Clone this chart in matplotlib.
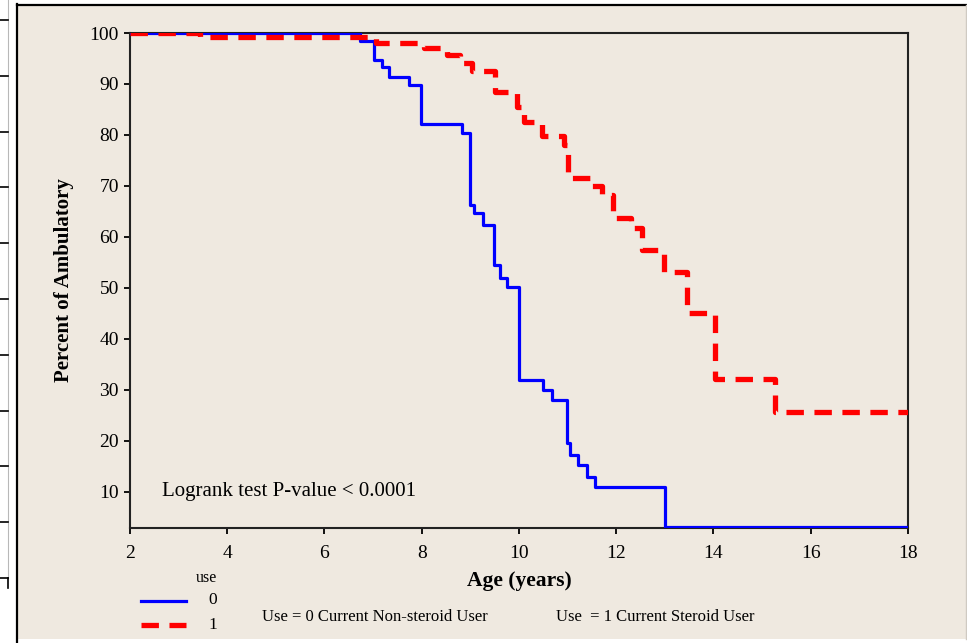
import matplotlib.pyplot as plt
from matplotlib.lines import Line2D
from matplotlib.patches import Rectangle

plt.rcParams['font.family'] = ['Liberation Serif', 'DejaVu Serif']

# Kaplan-Meier steps: age at each drop and percent ambulatory after it
blue_age = [2, 6.72, 7.01, 7.18, 7.32, 7.73, 7.99, 8.82, 9.0, 9.08, 9.26, 9.48,
            9.61, 9.75, 10.0, 10.5, 10.68, 10.99, 11.05, 11.22, 11.4, 11.57, 13.0, 18]
blue_pct = [100, 98.5, 94.8, 93.4, 91.3, 89.8, 82.1, 80.3, 66.3, 64.6, 62.3, 54.5,
            51.9, 50.1, 32.0, 30.0, 28.0, 19.5, 17.3, 15.3, 13.0, 11.0, 3.1, 3.1]

red_age = [2, 3.44, 7.05, 8.05, 8.52, 8.79, 9.03, 9.51, 9.96, 10.1, 10.47, 10.92,
           11.0, 11.48, 11.70, 11.94, 12.30, 12.52, 12.99, 13.45, 14.04, 15.27, 18]
red_pct = [100, 99.3, 98.0, 97.0, 95.6, 94.1, 92.5, 88.4, 85.5, 82.6, 79.7, 78.0,
           71.5, 70.0, 68.2, 63.7, 61.7, 57.5, 53.2, 45.0, 32.2, 25.6, 25.6]

x_ticks = [2, 4, 6, 8, 10, 12, 14, 16, 18]
y_ticks = [10, 20, 30, 40, 50, 60, 70, 80, 90, 100]

W, H = 967, 643
bg = '#efe9e0'

fig = plt.figure(figsize=(W / 100, H / 100), dpi=100)
fig.patch.set_facecolor('white')

def fx(px):
    return px / W

def fy(py):
    return 1 - py / H

# beige panel with dark border on left and top
fig.add_artist(Rectangle((fx(16), fy(639)), fx(951), 634 / H, transform=fig.transFigure,
                         facecolor=bg, edgecolor='none', zorder=0))
fig.add_artist(Line2D([fx(17), fx(17)], [fy(4), fy(643)], transform=fig.transFigure,
                      color='black', lw=1.6))
fig.add_artist(Line2D([fx(17), fx(967)], [fy(5), fy(5)], transform=fig.transFigure,
                      color='black', lw=1.6))
fig.add_artist(Line2D([fx(966), fx(966)], [fy(5), fy(639)], transform=fig.transFigure,
                      color='#cfcac2', lw=1.0))

# strip of a neighbouring chart at the far left edge
fig.add_artist(Line2D([fx(8), fx(8)], [fy(0), fy(578)], transform=fig.transFigure,
                      color='#b8b8b8', lw=0.8))
for k in range(11):
    yy = 20 + 55.8 * k
    fig.add_artist(Line2D([fx(0), fx(8)], [fy(yy), fy(yy)], transform=fig.transFigure,
                          color='black', lw=1.2))
fig.add_artist(Line2D([fx(8), fx(8)], [fy(578), fy(588)], transform=fig.transFigure,
                      color='black', lw=1.2))

ax = fig.add_axes([fx(130), fy(528), fx(908 - 130), (528 - 33) / H])
ax.set_facecolor(bg)

ax.plot(blue_age, blue_pct, drawstyle='steps-post', color='#0000ff', lw=2.3, zorder=3)
ax.plot(red_age, red_pct, drawstyle='steps-post', color='#ff0000', lw=3.8,
        dashes=(3.3, 2.0), zorder=4)

ax.set_xlim(2, 18)
ax.set_ylim(2.9, 100)
ax.set_xticks(x_ticks)
ax.set_yticks(y_ticks)
ax.tick_params(axis='both', direction='out', length=4, width=1.3, color='black',
               labelsize=14)
ax.tick_params(axis='x', pad=8)
ax.tick_params(axis='y', pad=4)
for s in ax.spines.values():
    s.set_color('#222222')
    s.set_linewidth(1.5)

ax.set_xlabel('Age (years)', fontsize=15.5, fontweight='bold', labelpad=7)
ax.set_ylabel('Percent of Ambulatory', fontsize=15, fontweight='bold', labelpad=11)

ax.text(2.65, 10, 'Logrank test P-value < 0.0001', fontsize=15, va='center', ha='left')

# legend block below the axes
fig.text(fx(206), fy(578), 'use', fontsize=11.5, ha='center', va='center')
fig.add_artist(Line2D([fx(141), fx(186)], [fy(600.5), fy(600.5)], transform=fig.transFigure,
                      color='#0000ff', lw=2.3))
fig.add_artist(Line2D([fx(141), fx(186)], [fy(625), fy(625)], transform=fig.transFigure,
                      color='#ff0000', lw=3.8, dashes=(3.3, 2.0)))
fig.text(fx(213), fy(600), '0', fontsize=12.5, ha='center', va='center')
fig.text(fx(213), fy(625), '1', fontsize=12.5, ha='center', va='center')
fig.text(fx(262), fy(617), 'Use = 0 Current Non-steroid User', fontsize=12, va='center')
fig.text(fx(556), fy(617), 'Use  = 1 Current Steroid User', fontsize=12, va='center')

fig.savefig('out.png', dpi=100, facecolor=fig.get_facecolor())
